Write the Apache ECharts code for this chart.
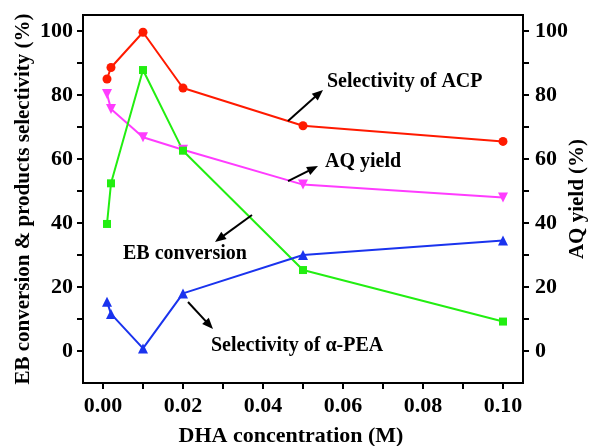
<!DOCTYPE html>
<html>
<head>
<meta charset="utf-8">
<script src="https://cdn.jsdelivr.net/npm/echarts@6/dist/echarts.min.js"></script>
<style>
html,body{margin:0;padding:0;background:#fff;}
#c{width:592px;height:446px;}
</style>
</head>
<body>
<div id="c"></div>
<script>
// ---- data ----
var dhaConc = [0.001, 0.002, 0.01, 0.02, 0.05, 0.1];
var selACP = [85.0, 88.6, 99.6, 82.2, 70.4, 65.5];
var aqYield = [80.3, 75.6, 66.8, 62.9, 52.0, 48.0];
var ebConversion = [39.7, 52.4, 87.8, 62.6, 25.3, 9.2];
var selPEA = [15.4, 11.6, 0.8, 18.0, 30.0, 34.5];

var xTickLabels = [0, 0.02, 0.04, 0.06, 0.08, 0.10];
var xMinorTicks = [0, 0.01, 0.02, 0.03, 0.04, 0.05, 0.06, 0.07, 0.08, 0.09, 0.10];
var yTickLabels = [0, 20, 40, 60, 80, 100];
var yMinorTicks = [0, 10, 20, 30, 40, 50, 60, 70, 80, 90, 100];

var annotationTexts = ['Selectivity of ACP', 'AQ yield', 'EB conversion', 'Selectivity of \u03b1-PEA'];
var annotationAnchors = [[0.056, 84], [0.0555, 59], [0.005, 30.3], [0.027, 1.6]];
var arrowStarts = [[0.04625, 71.9], [0.04625, 53.1], [0.03725, 42.5], [0.02125, 15.3]];
var arrowEnds = [[0.055, 81.6], [0.05375, 57.8], [0.028, 34.1], [0.0275, 6.9]];

function pairs(xs, ys) { return xs.map(function (x, i) { return [x, ys[i]]; }); }

var FONT = '"Liberation Serif","Times New Roman",serif';
var chart = echarts.init(document.getElementById('c'));

function yAxisCfg(pos, name, gap) {
  return {
    type: 'value', position: pos, min: -10, max: 105,
    name: name, nameLocation: 'middle', nameGap: gap, nameRotate: 90, nameMoveOverlap: false,
    nameTextStyle: { fontFamily: FONT, fontWeight: 'bold', fontSize: 21, color: '#000' },
    axisLine: { show: true, onZero: false, lineStyle: { color: '#000', width: 2 } },
    axisTick: { show: true, inside: false, length: 6, customValues: yMinorTicks, lineStyle: { color: '#000', width: 2 } },
    axisLabel: { show: true, customValues: yTickLabels, margin: pos === 'left' ? 10 : 12, fontFamily: FONT, fontWeight: 'bold', fontSize: 22, color: '#000' },
    splitLine: { show: false }
  };
}

function lineSeries(name, ys, color, symbol, size, rotate) {
  return {
    name: name, type: 'line', data: pairs(dhaConc, ys),
    symbol: symbol, symbolSize: size, symbolRotate: rotate || 0,
    showAllSymbol: true,
    lineStyle: { color: color, width: 2 },
    itemStyle: { color: color },
    z: 3
  };
}

var option = {
  backgroundColor: '#fff',
  animation: false,
  grid: { left: 83, right: 69, top: 15, bottom: 63, outerBoundsMode: 'none', containLabel: false,
    show: true, borderColor: '#000', borderWidth: 2, backgroundColor: 'transparent' },
  xAxis: {
    type: 'value', min: -0.005, max: 0.105,
    name: 'DHA concentration (M)', nameLocation: 'middle', nameGap: 42, nameMoveOverlap: false,
    nameTextStyle: { fontFamily: FONT, fontWeight: 'bold', fontSize: 22, color: '#000', padding: [0, 24, 0, 0] },
    axisLine: { show: true, onZero: false, lineStyle: { color: '#000', width: 2 } },
    axisTick: { show: true, length: 6, customValues: xMinorTicks, lineStyle: { color: '#000', width: 2 } },
    axisLabel: { customValues: xTickLabels, margin: 12, fontFamily: FONT, fontWeight: 'bold', fontSize: 22, color: '#000',
      formatter: function (v) { return v.toFixed(2); } },
    splitLine: { show: false }
  },
  yAxis: [
    yAxisCfg('left', 'EB conversion & products selectivity (%)', 49),
    yAxisCfg('right', 'AQ yield (%)', 44)
  ],
  series: [
    lineSeries('Selectivity of ACP', selACP, '#ff1a00', 'circle', 9),
    lineSeries('AQ yield', aqYield, '#ff3cff', 'triangle', 10, 180),
    lineSeries('EB conversion', ebConversion, '#22ee11', 'rect', 8),
    lineSeries('Selectivity of \u03b1-PEA', selPEA, '#1a33ee', 'triangle', 10)
  ]
};
chart.setOption(option);

function px(p) { return chart.convertToPixel({ xAxisIndex: 0, yAxisIndex: 0 }, p); }

var graphics = [];
annotationTexts.forEach(function (t, i) {
  var p = px(annotationAnchors[i]);
  graphics.push({
    type: 'text', x: p[0], y: p[1], z: 10,
    style: { text: t, fontFamily: FONT, fontWeight: 'bold', fontSize: 20, fill: '#000', textAlign: 'left', textVerticalAlign: 'middle' }
  });
});
arrowStarts.forEach(function (s, i) {
  var a = px(s), b = px(arrowEnds[i]);
  var dx = b[0] - a[0], dy = b[1] - a[1];
  var len = Math.sqrt(dx * dx + dy * dy);
  var ux = dx / len, uy = dy / len;
  var headL = 11, headW = 4.5;
  var bx = b[0] - ux * headL, by = b[1] - uy * headL;
  graphics.push({
    type: 'line', z: 10,
    shape: { x1: a[0], y1: a[1], x2: bx + ux * 2, y2: by + uy * 2 },
    style: { stroke: '#000', lineWidth: 2 }
  });
  graphics.push({
    type: 'polygon', z: 10,
    shape: { points: [[b[0], b[1]], [bx - uy * headW, by + ux * headW], [bx + uy * headW, by - ux * headW]] },
    style: { fill: '#000' }
  });
});
chart.setOption({ graphic: graphics });
</script>
</body>
</html>
